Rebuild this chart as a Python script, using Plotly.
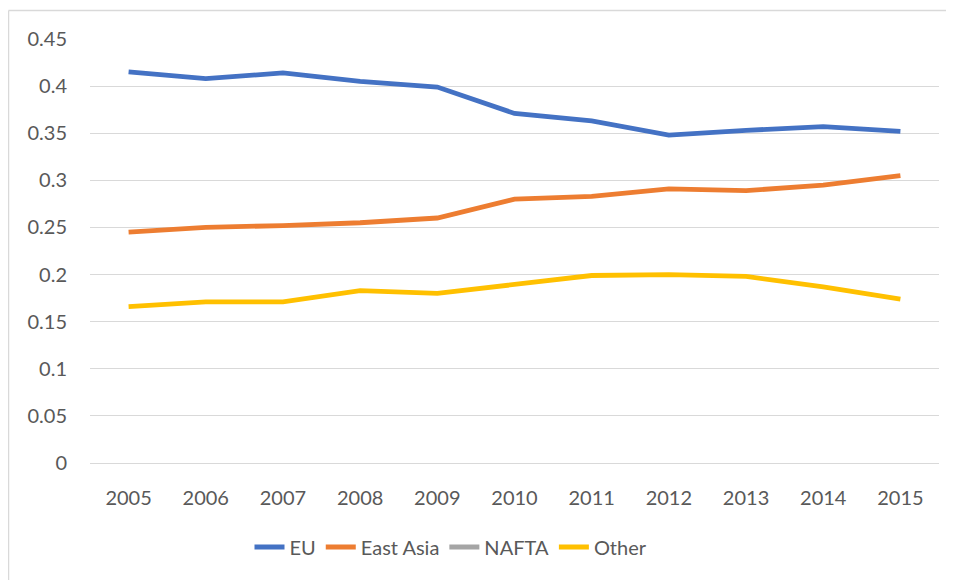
import plotly.graph_objects as go

years = ["2005", "2006", "2007", "2008", "2009", "2010", "2011", "2012", "2013", "2014", "2015"]
eu = [0.415, 0.408, 0.414, 0.405, 0.399, 0.371, 0.363, 0.348, 0.353, 0.357, 0.352]
east_asia = [0.245, 0.250, 0.252, 0.255, 0.260, 0.280, 0.283, 0.291, 0.289, 0.295, 0.305]
nafta = [None] * 11
other = [0.166, 0.171, 0.171, 0.183, 0.180, 0.189, 0.199, 0.200, 0.198, 0.187, 0.174]

series = [
    ("EU", eu, "#4472C4"),
    ("East Asia", east_asia, "#ED7D31"),
    ("NAFTA", nafta, "#A5A5A5"),
    ("Other", other, "#FFC000"),
]

fig = go.Figure()
for name, vals, color in series:
    fig.add_trace(go.Scatter(
        x=years, y=vals, name=name, mode="lines",
        line=dict(color=color, width=4.8),
        showlegend=True,
    ))

# page body has an 8px margin; work in screen pixels and offset
OFF = 8
W, H = 954 - OFF, 580 - OFF
ml, mr, mt, mb = 90 - OFF, 15, 39 - OFF, 117
pw, ph = W - ml - mr, H - mt - mb

def sx(px):
    return (px - OFF - ml) / pw

def sy(py):
    return (H - mb - (py - OFF)) / ph

fig.update_layout(
    width=W, height=H,
    margin=dict(l=ml, r=mr, t=mt, b=mb),
    paper_bgcolor="white", plot_bgcolor="white",
    font=dict(family="Lato, Open Sans, sans-serif", size=20, color="#595959"),
    xaxis=dict(
        type="category", range=[-0.5, 10.5],
        showgrid=False, zeroline=False,
        showline=True, linecolor="#D9D9D9", linewidth=1.3,
        ticks="", ticklabelstandoff=17,
        fixedrange=True,
    ),
    yaxis=dict(
        range=[0, 0.45], dtick=0.05, tick0=0,
        showgrid=True, gridcolor="#D9D9D9", gridwidth=1.3,
        zeroline=False, showline=False,
        ticks="", ticklabelstandoff=22,
        tickformat="~r",
        fixedrange=True,
    ),
    legend=dict(
        orientation="h", x=sx(451), xanchor="center",
        y=sy(547), yanchor="middle",
        font=dict(size=20, color="#595959"),
        tracegroupgap=0,
    ),
    shapes=[
        dict(type="line", xref="paper", yref="paper",
             x0=sx(8.5), x1=sx(960),
             y0=sy(10.5), y1=sy(10.5),
             line=dict(color="#D9D9D9", width=1.5)),
        dict(type="line", xref="paper", yref="paper",
             x0=sx(8.5), x1=sx(8.5),
             y0=sy(10.5), y1=sy(590),
             line=dict(color="#D9D9D9", width=1.5)),
    ],
)

fig.write_html("out.html")
